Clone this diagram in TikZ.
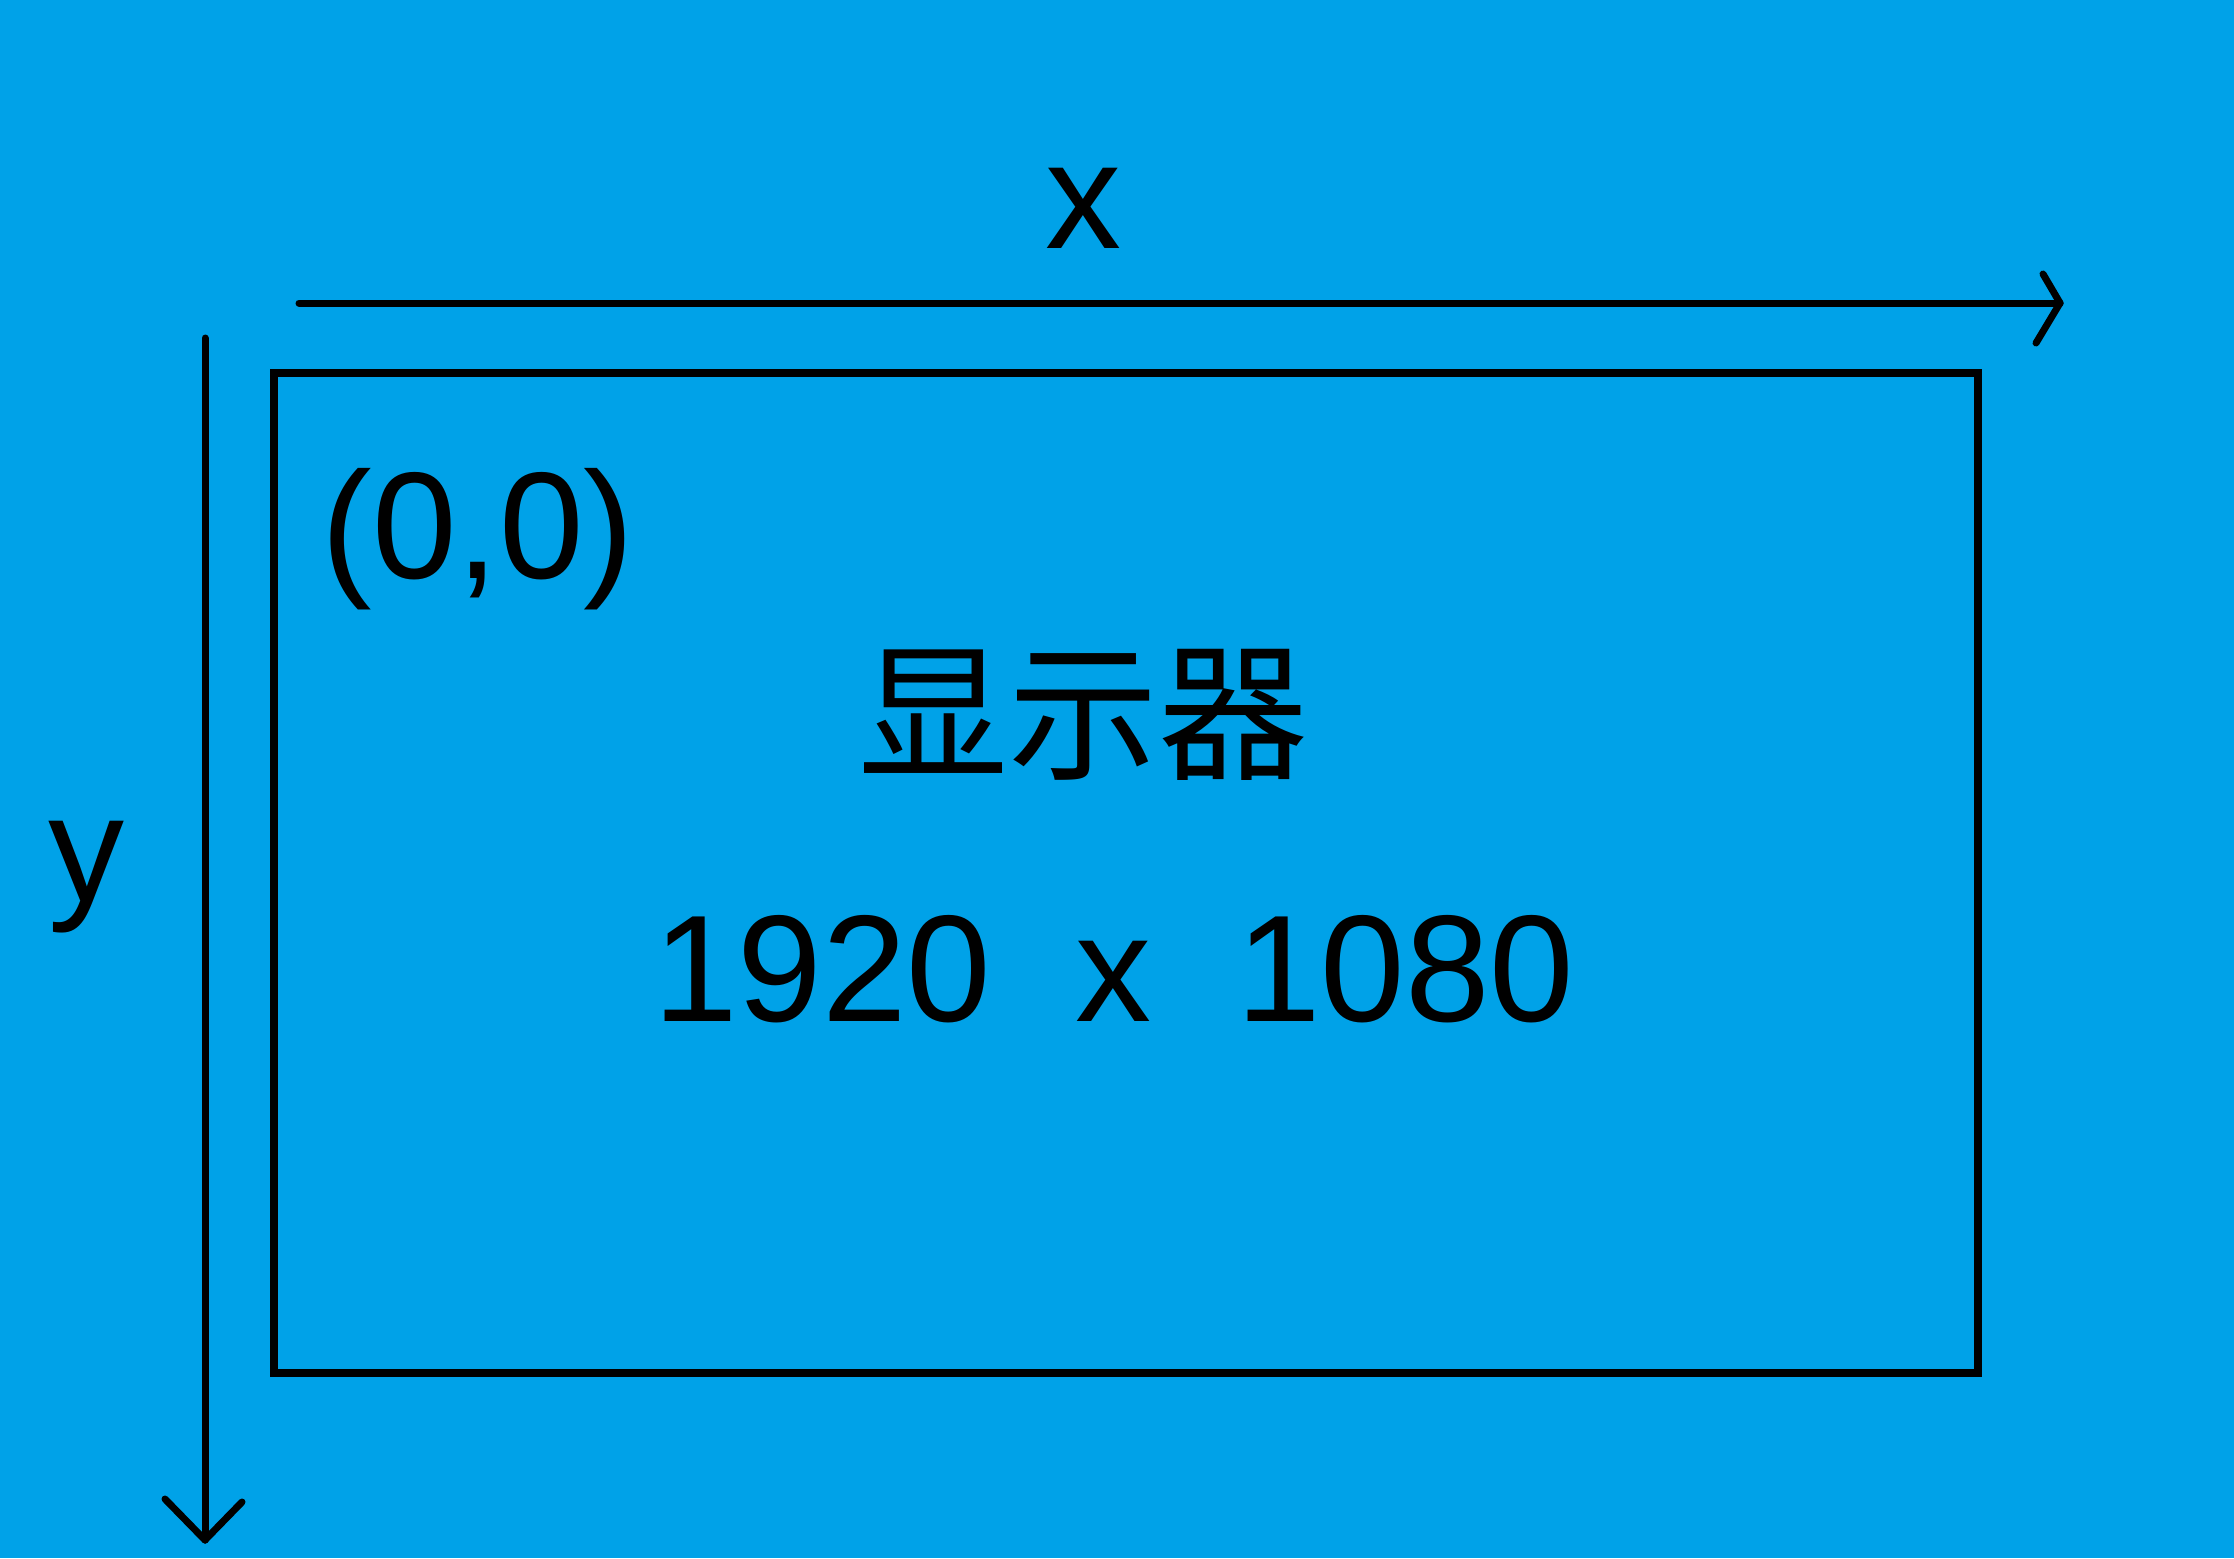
\documentclass[tikz,border=0pt]{standalone}
\usepackage{fontspec}
\setmainfont{Liberation Sans}
\newfontfamily\cjk{Noto Sans CJK SC}
\usetikzlibrary{positioning}
\definecolor{scrBlue}{HTML}{00A2E8}
\definecolor{scrInk}{HTML}{000000}
\begin{document}
\begin{tikzpicture}[x=1pt,y=-1pt,line cap=round,line join=round]
\path[fill=scrBlue] (0,0) rectangle (2234,1558);
\tikzset{axis/.style={draw=scrInk,line width=7pt},frame/.style={draw=scrInk,line width=8pt,line cap=butt,line join=miter},big/.style={text=scrInk,font=\fontsize{152}{152}\selectfont,inner sep=0pt}}
\coordinate (xstart) at (299,303); \coordinate (xtip) at (2060,303);
\coordinate (ystart) at (205,338); \coordinate (ytip) at (205,1540);
\draw[axis] (xstart) -- (xtip); \draw[axis] (xtip) -- (2043,274); \draw[axis] (xtip) -- (2036,343);
\draw[axis] (ystart) -- (ytip); \draw[axis] (ytip) -- (165,1499); \draw[axis] (ytip) -- (242,1502);
\node[frame,minimum width=1704pt,minimum height=1000pt,inner sep=0pt] (screen) at (1125.5,873) {};
\node[big,anchor=base] (xlabel) at (1083,248) {x};
\node[big,anchor=base] (ylabel) at (86,901) {y};
\node[big,anchor=base] (origin) at (478,578) {(0,0)};
\node[big,font=\cjk\fontsize{150}{150}\selectfont] (name) at (1083,715) {显示器};
\node[big,anchor=base] (res) at (1114,1021) {1920\ \ x\ \ 1080};
\end{tikzpicture}
\end{document}
